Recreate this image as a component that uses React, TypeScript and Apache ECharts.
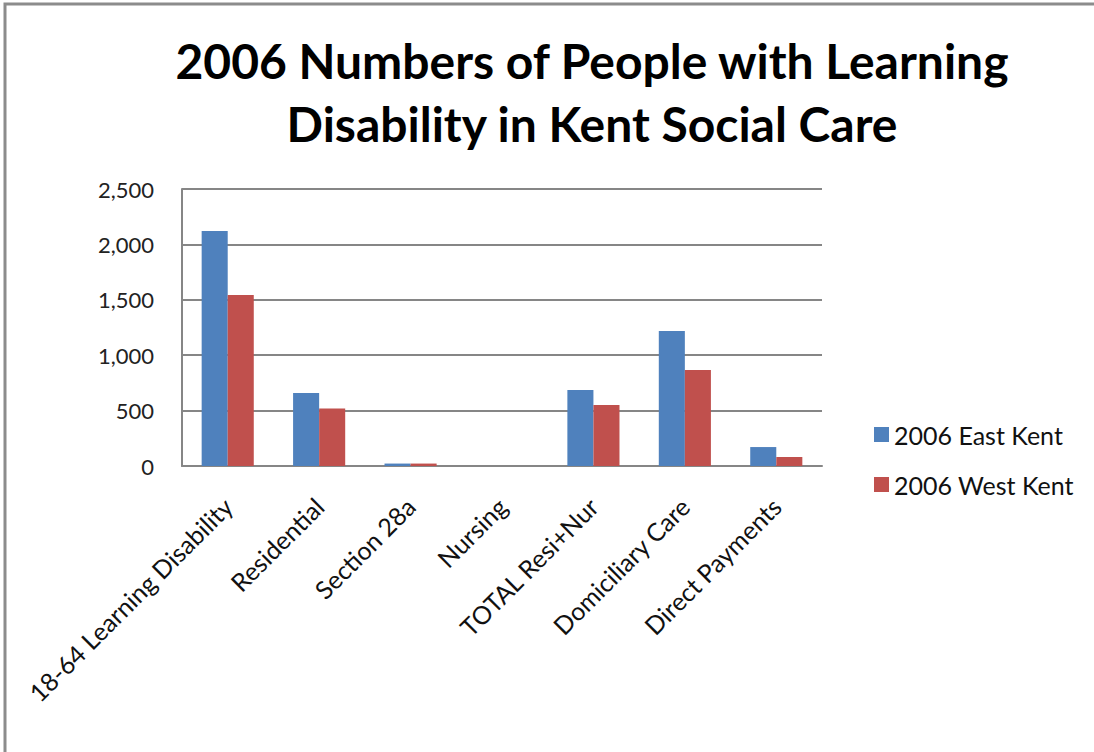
import React, { useEffect, useRef } from "react";
import * as echarts from "echarts";

const categories = [
  "18-64 Learning Disability",
  "Residential",
  "Section 28a",
  "Nursing",
  "TOTAL Resi+Nur",
  "Domiciliary Care",
  "Direct Payments",
];
const eastKent = [2121, 659, 22, 0, 686, 1218, 171];
const westKent = [1543, 518, 22, 0, 551, 866, 81];
const seriesNames = ["2006 East Kent", "2006 West Kent"];
const titleText = "2006 Numbers of People with Learning\nDisability in Kent Social Care";

const FONT = "Lato, 'Open Sans', sans-serif";

export default function App() {
  const ref = useRef<HTMLDivElement>(null);
  useEffect(() => {
    if (!ref.current) return;
    const chart = echarts.init(ref.current, undefined, { renderer: "svg" });
    chart.setOption({
      animation: false,
      backgroundColor: "#ffffff",
      textStyle: { fontFamily: FONT },
      title: {
        text: titleText,
        left: 587,
        top: 24,
        textAlign: "center",
        textStyle: {
          fontFamily: FONT,
          fontSize: 48,
          fontWeight: "bold",
          color: "#000",
          lineHeight: 63,
        },
      },
      graphic: [
        {
          type: "polyline",
          shape: { points: [[5, 760], [5, 4], [1100, 4]] },
          style: { stroke: "#8c8c8c", lineWidth: 3, fill: "none" },
        },
      ],
      legend: {
        orient: "vertical",
        left: 869,
        top: 417,
        itemWidth: 15,
        itemHeight: 15,
        itemGap: 25,
        icon: "rect",
        textStyle: { fontFamily: FONT, fontSize: 25, color: "#111" },
        data: seriesNames,
      },
      grid: { left: 182, top: 189, right: 272, bottom: 286, containLabel: false },
      xAxis: {
        type: "category",
        data: categories,
        axisLine: { lineStyle: { color: "#868686", width: 2 } },
        axisTick: { show: false },
        axisLabel: {
          rotate: 45,
          interval: 0,
          margin: 36,
          fontFamily: FONT,
          fontSize: 25,
          color: "#111",
        },
      },
      yAxis: {
        type: "value",
        min: 0,
        max: 2500,
        interval: 500,
        axisLine: { show: true, lineStyle: { color: "#868686", width: 2 } },
        axisTick: { show: false },
        splitLine: { lineStyle: { color: "#868686", width: 2 } },
        axisLabel: {
          margin: 28,
          fontFamily: FONT,
          fontSize: 22,
          color: "#222",
          formatter: (v: number) => v.toLocaleString("en-US"),
        },
      },
      series: [
        {
          name: seriesNames[0],
          type: "bar",
          data: eastKent,
          itemStyle: { color: "#4F81BD" },
          barGap: "0%",
          barCategoryGap: "43%",
        },
        {
          name: seriesNames[1],
          type: "bar",
          data: westKent,
          itemStyle: { color: "#C0504D" },
          barGap: "0%",
          barCategoryGap: "43%",
        },
      ],
    });
    return () => chart.dispose();
  }, []);
  return (
    <div
      ref={ref}
      style={{ position: "fixed", left: 0, top: 0, width: 1094, height: 752 }}
    />
  );
}
